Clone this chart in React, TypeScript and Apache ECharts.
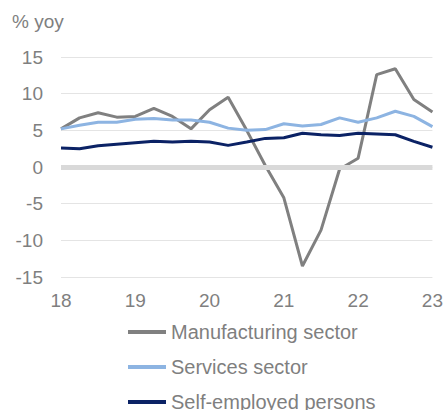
import React, { useEffect, useRef } from "react";
import * as echarts from "echarts";

const quarters = [
  "18Q1", "18Q2", "18Q3", "18Q4",
  "19Q1", "19Q2", "19Q3", "19Q4",
  "20Q1", "20Q2", "20Q3", "20Q4",
  "21Q1", "21Q2", "21Q3", "21Q4",
  "22Q1", "22Q2", "22Q3", "22Q4",
  "23Q1",
];

const manufacturing = [5.2, 6.7, 7.4, 6.8, 6.9, 8.0, 6.9, 5.2, 7.8, 9.5, 5.0, 0.2, -4.2, -13.5, -8.6, -0.3, 1.2, 12.6, 13.4, 9.2, 7.5];
const services = [5.2, 5.7, 6.1, 6.1, 6.5, 6.6, 6.4, 6.4, 6.1, 5.3, 5.0, 5.1, 5.9, 5.6, 5.8, 6.7, 6.1, 6.7, 7.6, 6.9, 5.5];
const selfEmployed = [2.6, 2.5, 2.9, 3.1, 3.3, 3.5, 3.4, 3.5, 3.4, 2.95, 3.4, 3.9, 4.0, 4.6, 4.4, 4.3, 4.6, 4.5, 4.4, 3.5, 2.7];

const seriesNames = ["Manufacturing sector", "Services sector", "Self-employed persons"];
const yTicks = { min: -15, max: 15, interval: 5 };
const unitLabel = "% yoy";

const FONT = "'Liberation Sans', Arial, sans-serif";
const TEXT = "#7f7f7f";

export default function App() {
  const ref = useRef<HTMLDivElement>(null);
  useEffect(() => {
    if (!ref.current) return;
    const chart = echarts.init(ref.current, undefined, { renderer: "svg" });
    const lineSeries = (name: string, data: number[], color: string) => ({
      name,
      type: "line",
      data,
      symbol: "none",
      lineStyle: { color, width: 3 },
      itemStyle: { color },
      z: 3,
    });
    chart.setOption({
      animation: false,
      textStyle: { fontFamily: FONT },
      graphic: [
        {
          type: "text",
          left: 12,
          top: 12,
          style: { text: unitLabel, fill: TEXT, font: `19px ${FONT}` },
        },
      ],
      grid: { left: 61, right: 12, top: 57, bottom: 133, containLabel: false },
      xAxis: {
        type: "category",
        data: quarters,
        boundaryGap: false,
        axisLine: { show: false },
        axisTick: { show: false },
        splitLine: { show: false },
        axisLabel: {
          interval: 3,
          color: TEXT,
          fontSize: 19,
          fontFamily: FONT,
          margin: 14,
          formatter: (v: string) => v.slice(0, 2),
        },
      },
      yAxis: {
        type: "value",
        min: yTicks.min,
        max: yTicks.max,
        interval: yTicks.interval,
        axisLine: { show: false },
        axisTick: { show: false },
        axisLabel: { color: TEXT, fontSize: 19, fontFamily: FONT, margin: 18 },
        splitLine: { lineStyle: { color: "#e4e4e4", width: 1 } },
      },
      legend: {
        orient: "vertical",
        left: 128,
        top: 322,
        width: 300,
        height: 200,
        padding: 0,
        data: seriesNames,
        icon: "rect",
        itemWidth: 38,
        itemHeight: 4,
        itemGap: 15,
        textStyle: { color: TEXT, fontSize: 20, fontFamily: FONT, lineHeight: 20 },
      },
      series: [
        {
          name: "zero",
          type: "line",
          data: [],
          z: 1,
          markLine: {
            silent: true,
            symbol: "none",
            label: { show: false },
            lineStyle: { color: "#d9d9d9", width: 5, type: "solid" },
            data: [{ yAxis: 0 }],
          },
        },
        lineSeries(seriesNames[0], manufacturing, "#808080"),
        lineSeries(seriesNames[1], services, "#8db4e2"),
        lineSeries(seriesNames[2], selfEmployed, "#0b2265"),
      ],
    });
    return () => chart.dispose();
  }, []);
  return <div ref={ref} style={{ width: 446, height: 410, position: "absolute", left: 0, top: 0 }} />;
}
